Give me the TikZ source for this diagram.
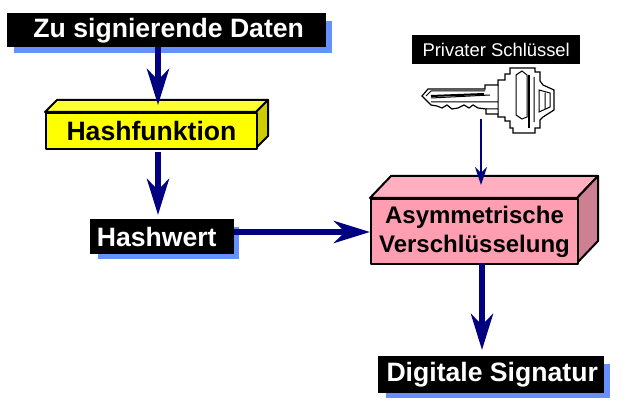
\documentclass[tikz,border=0pt]{standalone}
\usepackage{fontspec}
\setmainfont{Liberation Sans}
\usepackage[svgnames]{xcolor}
\usetikzlibrary{arrows.meta,calc}
\definecolor{arrownavy}{RGB}{0,0,128}
\definecolor{shadowblue}{RGB}{102,144,255}
\definecolor{hashyellow}{RGB}{255,255,0}
\definecolor{hashtop}{RGB}{255,255,51}
\definecolor{hashside}{RGB}{204,204,0}
\definecolor{pinkfront}{RGB}{255,158,176}
\definecolor{pinktop}{RGB}{255,175,192}
\definecolor{pinkside}{RGB}{204,128,145}
\tikzset{
  labelbox/.style={fill=black,text=white,font=\bfseries\fontsize{26.6}{26.6}\selectfont,inner sep=0pt,anchor=north west},
  fatarrow/.style={draw=arrownavy,line width=6pt,-{Stealth[length=36pt,width=22pt,inset=11pt]}},
  thinarrow/.style={draw=arrownavy,line width=2pt,-{Stealth[length=18pt,width=12pt,inset=6pt]}},
  boxedge/.style={draw=black,line width=2pt,line join=round},
}
\begin{document}
\begin{tikzpicture}[x=1pt,y=-1pt]
    \useasboundingbox (0,0) rectangle (635,414);

    % shadows under the black labels
    \fill[shadowblue] (14,21) rectangle (332,53);
    \fill[shadowblue] (98,227) rectangle (239,259);
    \fill[shadowblue] (386,364) rectangle (610,398);

    % black labels
    \node[labelbox,minimum width=319pt,minimum height=34pt] (daten) at (7,13) {\hspace*{4pt}Zu signierende Daten};
    \node[labelbox,minimum width=144pt,minimum height=35pt] (hashwert) at (90,219) {\hspace*{-11pt}Hashwert};
    \node[labelbox,minimum width=226pt,minimum height=37pt] (signatur) at (378,356) {\hspace*{2pt}Digitale Signatur};
    \node[labelbox,minimum width=168pt,minimum height=29pt,font=\fontsize{18.4}{18.4}\selectfont] (privat) at (412,35) {Privater Schlüssel};

    % yellow block
    \path[boxedge,fill=hashtop] (45,112) -- (57,100) -- (268,100) -- (256,112) -- cycle;
    \path[boxedge,fill=hashside] (256,112) -- (268,100) -- (268,136) -- (256,148) -- cycle;
    \node[boxedge,fill=hashyellow,inner sep=0pt,anchor=north west,minimum width=211pt,minimum height=36pt,font=\bfseries\fontsize{26.6}{26.6}\selectfont] (hash) at (45,112) {Hashfunktion};

    % pink block
    \path[boxedge,fill=pinktop] (370,198) -- (391,176) -- (598,176) -- (577,198) -- cycle;
    \path[boxedge,fill=pinkside] (577,198) -- (598,176) -- (598,241) -- (577,263) -- cycle;
    \node[boxedge,fill=pinkfront,inner sep=0pt,anchor=north west,minimum width=207pt,minimum height=65pt,align=center,font=\bfseries\fontsize{24}{29}\selectfont] (asym) at (370,198) {Asymmetrische\\Verschlüsselung};

    % key
    \draw[black,line width=1.2pt,fill=white,line join=miter] (422,96) -- (428,89) -- (485,89) -- (485,85) -- (498,85) -- (498,80) -- (505,80) -- (505,74) -- (510,74) -- (510,68) -- (535,68) -- (535,72) -- (540,72) -- (540,81) -- (543,85) -- (554,90) -- (554,110) -- (543,117) -- (540,120) -- (540,128) -- (535,128) -- (535,133) -- (513,133) -- (513,128) -- (510,128) -- (510,121) -- (505,121) -- (505,117) -- (498,117) -- (498,114) -- (486,114) -- (486,109) -- (478,108) -- (473,105) -- (469,108) -- (464,105) -- (458,108) -- (452,109) -- (447,105) -- (442,108) -- (437,106) -- (431,105) -- cycle;
    \draw[line width=1pt] (426,96) -- (431,91) -- (485,91) (431,98) -- (490,95) (498,85) -- (498,114) (431,102) -- (490,102) -- (498,102) (486,109) -- (498,109);
    \draw[line width=2pt] (431,96) -- (484,94);
    \draw[line width=1pt] (516,75) -- (522,71) -- (527,75) -- (527,117) -- (522,119) -- (516,115) -- cycle;
    \draw[line width=2pt] (529,75) -- (529,128);
    \draw[line width=1pt] (534,77) -- (534,122) (539,90) -- (550,93) -- (550,107) -- (539,112) -- cycle (545,93) -- (545,109);

    % connector ends
    \coordinate (datenout) at (158,47);
    \coordinate (hashin) at (158,105);
    \coordinate (hashout) at (158,152);
    \coordinate (wertin) at (158,215);
    \coordinate (wertout) at (234,232);
    \coordinate (asymin) at (370,232);
    \coordinate (asymout) at (482,263);
    \coordinate (siggin) at (482,350);
    \coordinate (keyout) at (481,119);
    \coordinate (keyin) at (481,185);

    \draw[fatarrow] (datenout) -- (hashin);
    \draw[fatarrow] (hashout) -- (wertin);
    \draw[fatarrow] (wertout) -- (asymin);
    \draw[fatarrow] (asymout) -- (siggin);
    \draw[thinarrow] (keyout) -- (keyin);
\end{tikzpicture}
\end{document}
